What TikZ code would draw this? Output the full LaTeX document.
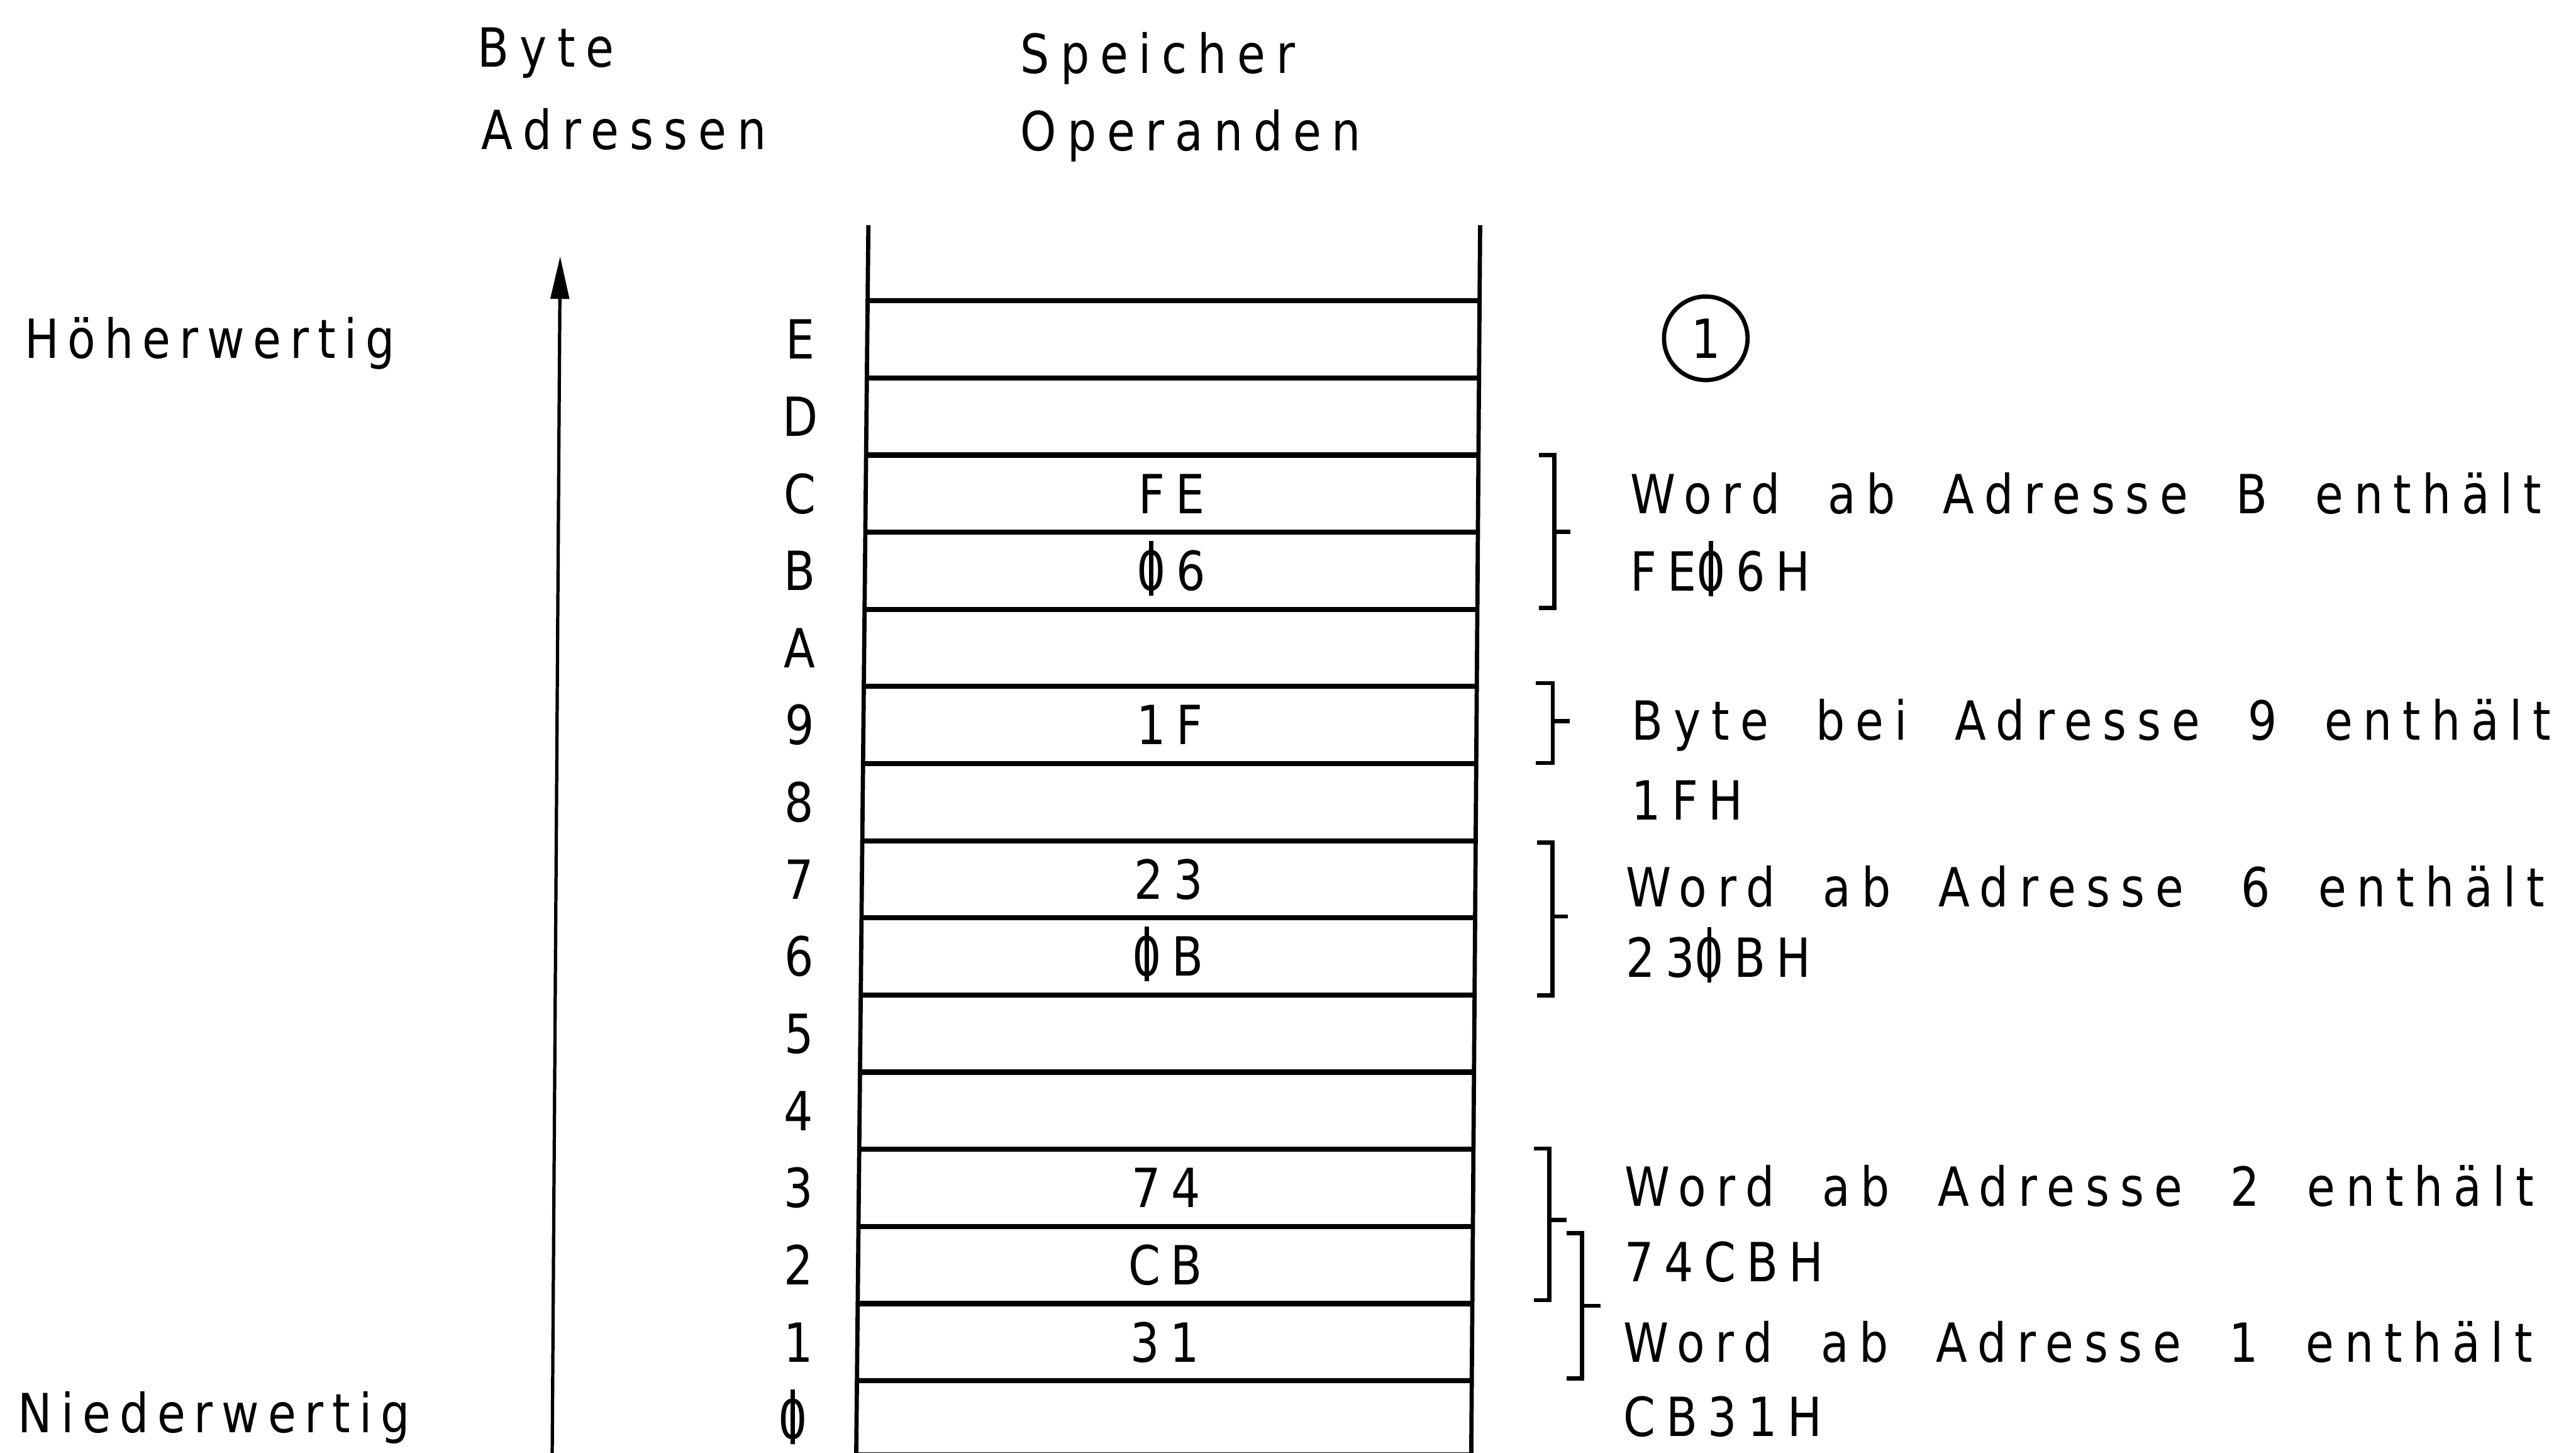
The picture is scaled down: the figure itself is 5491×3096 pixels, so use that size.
\documentclass[tikz,border=0pt]{standalone}
\usepackage{fontspec}
\usepackage{graphicx}
\usetikzlibrary{arrows.meta}
\newfontfamily\dfont{DejaVu Sans}[LetterSpace=23,WordSpace=1.9]
\newfontfamily\dfontb{DejaVu Sans}[LetterSpace=19]
\newfontfamily\dfontn{DejaVu Sans}
\newcommand\sx[1]{\scalebox{0.85}[1]{#1}}
\newcommand\slz{{\dfontn\ooalign{0\cr\hidewidth\rule[-0.1em]{0.09em}{1.02em}\hidewidth\cr}}\kern0.23em}
\begin{document}
\begin{tikzpicture}[x=0.01cm,y=-0.01cm,
  txt/.style={font={\dfont\fontsize{32.7pt}{39pt}\selectfont}, inner sep=0pt, anchor=base west},
  side/.style={font={\dfontb\fontsize{32.7pt}{39pt}\selectfont}, inner sep=0pt, anchor=base west},
  rowline/.style={line width=0.11cm},
  colline/.style={line width=0.09cm},
  brk/.style={line width=0.09cm},
  axis/.style={line width=0.07cm, -{Triangle[length=0.91cm,width=0.39cm]}}]
\useasboundingbox (0,0) rectangle (5491,3096);
% headers
\node[txt] (hByte) at (1018,143) {\sx{Byte}};
\node[txt] (hAdr) at (1026,318) {\sx{Adressen}};
\node[txt] (hSp) at (2175,156) {\sx{Speicher}};
\node[txt] (hOp) at (2175,321) {\sx{Operanden}};
% side labels
\node[side] (hoeh) at (52,764) {\sx{Höherwertig}};
\node[side] (nied) at (38,3053) {\sx{Niederwertig}};
% arrow
\coordinate (abot) at (1177,3110);
\coordinate (atop) at (1194,546);
\draw[axis] (abot) -- (atop);
% column
\coordinate (cTL) at (1851,480);
\coordinate (cBL) at (1825,3110);
\coordinate (cTR) at (3155,480);
\coordinate (cBR) at (3136,3110);
\draw[colline] (cTL) -- (cBL);
\draw[colline] (cTR) -- (cBR);
\foreach \i in {0,...,14}{
  \pgfmathsetmacro\yy{641+164.4*\i}
  \pgfmathsetmacro\xl{1851-0.00956*(\yy-480)}
  \pgfmathsetmacro\xr{3155-0.00726*(\yy-480)}
  \draw[rowline] (\xl,\yy) -- (\xr,\yy);
}
\draw[rowline] (1826,3101) -- (3136,3101);
% address labels
\foreach \lab [count=\k from 0] in {E,D,C,B,A,9,8,7,6,5,4,3,2,1,\slz}{
  \pgfmathsetmacro\yc{641+164.4*\k+82.2+42}
  \pgfmathsetmacro\xa{1706-0.002*(\yc-700)}
  \node[txt, anchor=base] (addr\k) at (\xa,\yc) {\sx{\lab}};
}
% cell contents
\foreach \r/\ct in {2/FE, 3/\slz 6, 5/1F, 7/23, 8/\slz B, 11/74, 12/CB, 13/31}{
  \pgfmathsetmacro\yc{641+164.4*\r+82.2+42}
  \pgfmathsetmacro\xc{(1851-0.00956*(\yc-480)+3155-0.00726*(\yc-480))/2}
  \node[txt, anchor=base] (cell\r) at (\xc,\yc) {\sx{\ct}};
}
% circle 1
\node[txt, anchor=center, circle, draw, line width=0.09cm, minimum size=1.78cm] (num1) at (3636,721) {\sx{1}};
% brackets
\draw[brk] (3280,970) -- (3313,970) -- (3313,1296) -- (3280,1296);
\draw[brk] (3313,1133) -- (3348,1133);
\draw[brk] (3273,1456) -- (3310,1456) -- (3310,1626) -- (3273,1626);
\draw[brk] (3310,1537) -- (3346,1537);
\draw[brk] (3276,1796) -- (3309,1796) -- (3309,2121) -- (3276,2121);
\draw[brk] (3309,1953) -- (3342,1953);
\draw[brk] (3270,2448) -- (3302,2448) -- (3302,2771) -- (3270,2771);
\draw[brk] (3302,2600) -- (3339,2600);
\draw[brk] (3339,2628) -- (3372,2628) -- (3372,2938) -- (3339,2938);
\draw[brk] (3372,2783) -- (3412,2783);
% right texts
\node[txt] (t1a) at (3475,1095) {\sx{Word ab Adresse B enthält}};
\node[txt] (t1b) at (3475,1259) {\sx{FE\slz 6H}};
\node[txt] (t2a) at (3478,1577) {\sx{Byte bei Adresse 9 enthält}};
\node[txt] (t2b) at (3478,1747) {\sx{1FH}};
\node[txt] (t3a) at (3465,1932) {\sx{Word ab Adresse\hspace{0.25cm} 6 enthält}};
\node[txt] (t3b) at (3465,2082) {\sx{23\slz BH}};
\node[txt] (t4a) at (3463,2570) {\sx{Word ab Adresse 2 enthält}};
\node[txt] (t4b) at (3463,2731) {\sx{74CBH}};
\node[txt] (t5a) at (3460,2903) {\sx{Word ab Adresse 1 enthält}};
\node[txt] (t5b) at (3460,3061) {\sx{CB31H}};
\end{tikzpicture}
\end{document}
